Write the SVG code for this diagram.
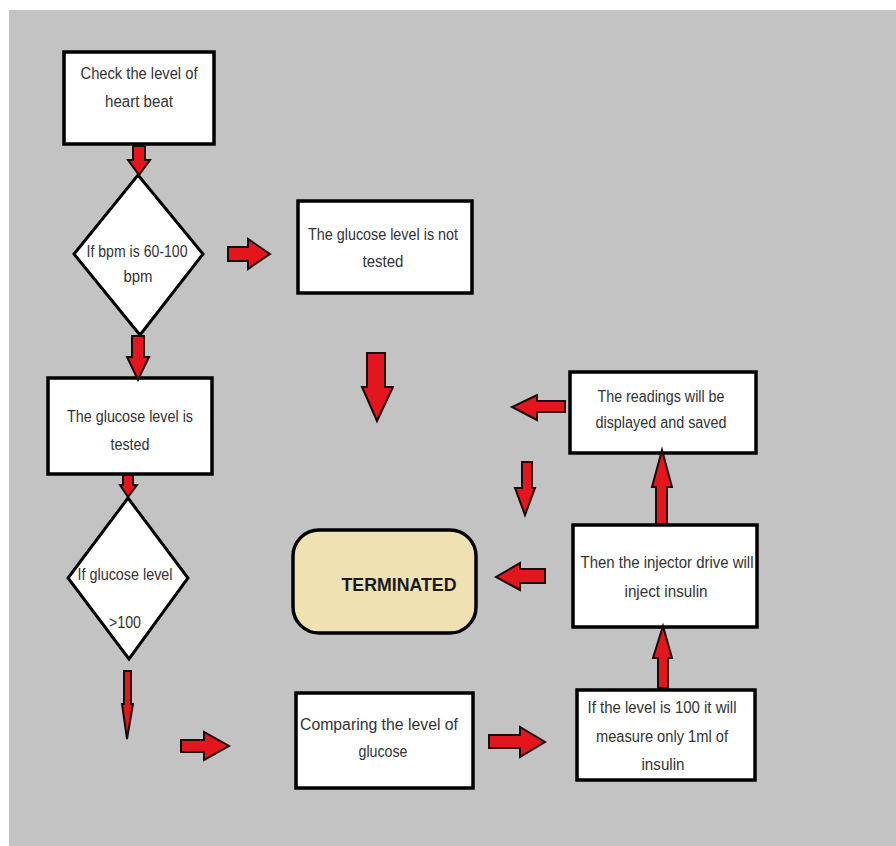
<svg xmlns="http://www.w3.org/2000/svg" width="896" height="846" viewBox="0 0 896 846">
<defs>
<style>
.box{fill:#ffffff;stroke:#000000;stroke-width:3.5}
.dia{fill:#ffffff;stroke:#000000;stroke-width:3}
.term{fill:#efe1b2;stroke:#000000;stroke-width:3.5}
.arr{fill:#e3151d;stroke:#1a0a0a;stroke-width:2;stroke-linejoin:miter}
.t{font-family:"Liberation Sans",Arial,sans-serif;font-size:16px;fill:#333333;text-anchor:middle}
.tb{font-family:"Liberation Sans",Arial,sans-serif;font-size:19px;font-weight:bold;fill:#1a1a22;text-anchor:middle}
</style>
</defs>
<rect x="0" y="0" width="896" height="846" fill="#ffffff"/>
<rect x="9" y="10" width="887" height="836" fill="#c3c3c3"/>

<g id="n1">
<rect class="box" x="64" y="52" width="150" height="92"/>
<text class="t" x="139" y="79" textLength="117" lengthAdjust="spacingAndGlyphs">Check the level of</text>
<text class="t" x="139" y="107" textLength="68" lengthAdjust="spacingAndGlyphs">heart beat</text>
</g>

<g id="n2">
<polygon class="dia" points="138,175 203,254 140,335 74,254"/>
<text class="t" x="137" y="257" textLength="101" lengthAdjust="spacingAndGlyphs">If bpm is 60-100</text>
<text class="t" x="138" y="282" textLength="29" lengthAdjust="spacingAndGlyphs">bpm</text>
</g>

<g id="n3">
<rect class="box" x="298" y="201" width="174" height="92"/>
<text class="t" x="383" y="240" textLength="150" lengthAdjust="spacingAndGlyphs">The glucose level is not</text>
<text class="t" x="383" y="267" textLength="41" lengthAdjust="spacingAndGlyphs">tested</text>
</g>

<g id="n4">
<rect class="box" x="48" y="378" width="164" height="96"/>
<text class="t" x="130" y="422" textLength="126" lengthAdjust="spacingAndGlyphs">The glucose level is</text>
<text class="t" x="130" y="450" textLength="39" lengthAdjust="spacingAndGlyphs">tested</text>
</g>

<g id="n5">
<polygon class="dia" points="128,498 188,578 129,659 68,578"/>
<text class="t" x="125" y="580" textLength="95" lengthAdjust="spacingAndGlyphs">If glucose level</text>
<text class="t" x="125" y="628" textLength="32" lengthAdjust="spacingAndGlyphs">&gt;100</text>
</g>

<g id="n6">
<rect class="term" x="293" y="530" width="183" height="103" rx="26" ry="26"/>
<text class="tb" x="399" y="591" textLength="115" lengthAdjust="spacingAndGlyphs">TERMINATED</text>
</g>

<g id="n7">
<rect class="box" x="570" y="372" width="186" height="81"/>
<text class="t" x="661" y="402" textLength="127" lengthAdjust="spacingAndGlyphs">The readings will be</text>
<text class="t" x="661" y="428" textLength="131" lengthAdjust="spacingAndGlyphs">displayed and saved</text>
</g>

<g id="n8">
<rect class="box" x="573" y="525" width="184" height="102"/>
<text class="t" x="667" y="568" textLength="173" lengthAdjust="spacingAndGlyphs">Then the injector drive will</text>
<text class="t" x="666" y="597" textLength="83" lengthAdjust="spacingAndGlyphs">inject insulin</text>
</g>

<g id="n9">
<rect class="box" x="577" y="690" width="178" height="90"/>
<text class="t" x="662" y="713" textLength="149" lengthAdjust="spacingAndGlyphs">If the level is 100 it will</text>
<text class="t" x="662" y="742" textLength="132" lengthAdjust="spacingAndGlyphs">measure only 1ml of</text>
<text class="t" x="663" y="770" textLength="43" lengthAdjust="spacingAndGlyphs">insulin</text>
</g>

<g id="n10">
<rect class="box" x="296" y="693" width="177" height="95"/>
<text class="t" x="379" y="730" textLength="158" lengthAdjust="spacingAndGlyphs">Comparing the level of</text>
<text class="t" x="383" y="757" textLength="49" lengthAdjust="spacingAndGlyphs">glucose</text>
</g>

<g id="connectors">
<polygon class="arr" points="133,146 145,146 145,160 150,160 139,175 128,160 133,160"/>
<polygon class="arr" points="228,247 248,247 248,239 270,254 248,269 248,261 228,261"/>
<polygon class="arr" points="132,336 144,336 144,357 149,357 138,380 127,357 132,357"/>
<polygon class="arr" points="367,353 385,353 385,387 393,387 377,421 362,387 367,387"/>
<polygon class="arr" points="123,475 133,475 133,485 137,485 128,497 120,485 123,485"/>
<polygon class="arr" points="124,671 131,671 131,704 133,704 127,739 122,704 124,704"/>
<polygon class="arr" points="181,740 204,740 204,732 229,746 204,760 204,752 181,752"/>
<polygon class="arr" points="489,735 520,735 520,727 545,742 520,757 520,748 489,748"/>
<polygon class="arr" points="658,688 668,688 668,658 672,658 663,626 653,658 658,658"/>
<polygon class="arr" points="545,569 520,569 520,563 496,577 520,590 520,583 545,583"/>
<polygon class="arr" points="656,524 667,524 667,487 672,487 662,450 652,487 656,487"/>
<polygon class="arr" points="565,401 537,401 537,395 512,407 537,420 537,412 565,412"/>
<polygon class="arr" points="522,462 532,462 532,488 535,488 525,515 515,488 522,488"/>
</g>
</svg>
